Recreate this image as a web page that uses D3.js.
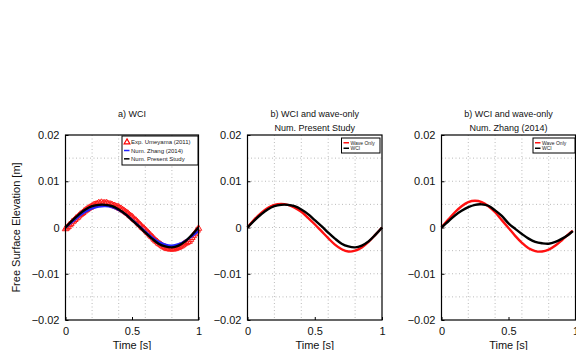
<!DOCTYPE html>
<html><head><meta charset="utf-8">
<script src="https://cdn.jsdelivr.net/npm/d3@7"></script>
<style>body{margin:0;background:#fff;}svg{display:block;font-family:"Liberation Sans",Arial,sans-serif;}</style>
</head><body><svg id="c" width="576" height="350"></svg>
<script>
const tGrid = [0,0.05,0.1,0.15,0.2,0.25,0.3,0.35,0.4,0.45,0.5,0.55,0.6,0.65,0.7,0.75,0.8,0.85,0.9,0.95,1];
const tZhang = [0,0.05,0.1,0.15,0.2,0.25,0.3,0.35,0.4,0.45,0.5,0.55,0.6,0.65,0.7,0.75,0.8,0.85,0.9,0.95,0.98];
const presentWCI = [0,0.0015,0.0028,0.0039,0.0046,0.0049,0.0049,0.0046,0.0039,0.0029,0.0016,0.0003,-0.0011,-0.0024,-0.0035,-0.0041,-0.0043,-0.0039,-0.0030,-0.0016,0];
const presentWave = [0,0.0017,0.0031,0.0042,0.0049,0.0051,0.0049,0.0043,0.0034,0.0021,0.0007,-0.0008,-0.0023,-0.0037,-0.0047,-0.0052,-0.0050,-0.0043,-0.0031,-0.0016,0];
const zhangWCIa = [0,0.0012,0.0024,0.0034,0.0041,0.0045,0.0046,0.0044,0.0038,0.0029,0.0017,0.0004,-0.0009,-0.0021,-0.0031,-0.0037,-0.0039,-0.0036,-0.0029,-0.0019,-0.0008];
const zhangWave = [0,0.0017,0.0033,0.0046,0.0055,0.0058,0.0055,0.0046,0.0033,0.0016,-0.0001,-0.0018,-0.0033,-0.0045,-0.0051,-0.0052,-0.0048,-0.0039,-0.0027,-0.0014,-0.0007];
const zhangWCI = [0,0.0013,0.0026,0.0036,0.0044,0.0049,0.0050,0.0047,0.0037,0.0025,0.0009,-0.0003,-0.0014,-0.0024,-0.0031,-0.0034,-0.0035,-0.0031,-0.0024,-0.0015,-0.0008];
const tExp = [0,0.01,0.02,0.03,0.04,0.05,0.06,0.07,0.08,0.09,0.1,0.11,0.12,0.13,0.14,0.15,0.16,0.17,0.18,0.19,0.2,0.21,0.22,0.23,0.24,0.25,0.26,0.27,0.28,0.29,0.3,0.31,0.32,0.33,0.34,0.35,0.36,0.37,0.38,0.39,0.4,0.41,0.42,0.43,0.44,0.45,0.46,0.47,0.48,0.49,0.5,0.51,0.52,0.53,0.54,0.55,0.56,0.57,0.58,0.59,0.6,0.61,0.62,0.63,0.64,0.65,0.66,0.67,0.68,0.69,0.7,0.71,0.72,0.73,0.74,0.75,0.76,0.77,0.78,0.79,0.8,0.81,0.82,0.83,0.84,0.85,0.86,0.87,0.88,0.89,0.9,0.91,0.92,0.93,0.94,0.95,0.96,0.97,0.98,0.99,1];
const expUmeyama = [-0.0003,-0.0001,0.0002,0.0006,0.0008,0.0012,0.0014,0.0017,0.0020,0.0022,0.0025,0.0028,0.0030,0.0032,0.0035,0.0037,0.0039,0.0041,0.0043,0.0044,0.0046,0.0048,0.0049,0.0050,0.0051,0.0053,0.0052,0.0054,0.0052,0.0053,0.0052,0.0053,0.0051,0.0050,0.0050,0.0049,0.0047,0.0047,0.0045,0.0044,0.0044,0.0041,0.0040,0.0038,0.0036,0.0034,0.0032,0.0030,0.0027,0.0025,0.0023,0.0020,0.0017,0.0015,0.0012,0.0009,0.0006,0.0003,0.0000,-0.0002,-0.0005,-0.0008,-0.0011,-0.0014,-0.0017,-0.0020,-0.0023,-0.0026,-0.0029,-0.0031,-0.0034,-0.0036,-0.0038,-0.0040,-0.0042,-0.0043,-0.0045,-0.0046,-0.0046,-0.0047,-0.0046,-0.0047,-0.0046,-0.0045,-0.0044,-0.0043,-0.0041,-0.0040,-0.0038,-0.0036,-0.0034,-0.0033,-0.0031,-0.0030,-0.0026,-0.0022,-0.0018,-0.0014,-0.0010,-0.0006,-0.0002];
const xTicks = [0,0.5,1];
const yTicks = [0.02,0.01,0,-0.01,-0.02];
const xGrid = [0.2,0.4,0.6,0.8];
const yGrid = [0.015,0.01,0.005,0,-0.005,-0.01,-0.015];

const svg = d3.select("#c");
const plotTop = 135, plotBottom = 320;
const panels = [
  {x0:65.5, x1:198.5, title:["a) WCI"],
   lines:[{t:tGrid,v:zhangWCIa,c:"#2222ff",w:2.2},{t:tGrid,v:presentWCI,c:"#000",w:2.4}],
   exp:true,
   legend:{x:122,y:136,w:76,h:29,fs:6,items:[{l:"Exp. Umeyama (2011)",c:"red",tri:true},{l:"Num. Zhang (2014)",c:"#2222ff"},{l:"Num. Present Study",c:"#000"}]}},
  {x0:247.5, x1:382, title:["b) WCI and wave-only","Num. Present Study"],
   lines:[{t:tGrid,v:presentWave,c:"#ff1010",w:2.4},{t:tGrid,v:presentWCI,c:"#000",w:2.4}],
   legend:{x:341.5,y:138,w:38.5,h:15,fs:5,items:[{l:"Wave Only",c:"#ff1010"},{l:"WCI",c:"#000"}]}},
  {x0:441.5, x1:575.5, title:["b) WCI and wave-only","Num. Zhang (2014)"],
   lines:[{t:tZhang,v:zhangWave,c:"#ff1010",w:2.4},{t:tZhang,v:zhangWCI,c:"#000",w:2.4}],
   legend:{x:533,y:138,w:42,h:15,fs:5,items:[{l:"Wave Only",c:"#ff1010"},{l:"WCI",c:"#000"}]}}
];
const fmt = d => d===0 ? "0" : (d<0 ? "\u2212"+d3.format(".2f")(-d) : d3.format(".2f")(d));
const xfmt = d => d===0.5 ? "0.5" : String(d);

panels.forEach(p => {
  const x = d3.scaleLinear().domain([0,1]).range([p.x0,p.x1]);
  const y = d3.scaleLinear().domain([-0.02,0.02]).range([plotBottom,plotTop]);
  const g = svg.append("g");
  g.selectAll(".gx").data(xGrid).join("line").attr("x1",d=>x(d)).attr("x2",d=>x(d)).attr("y1",plotTop).attr("y2",plotBottom)
    .attr("stroke","#aaa").attr("stroke-width",0.8).attr("stroke-dasharray","1,2.5");
  g.selectAll(".gy").data(yGrid).join("line").attr("y1",d=>y(d)).attr("y2",d=>y(d)).attr("x1",p.x0).attr("x2",p.x1)
    .attr("stroke","#aaa").attr("stroke-width",0.8).attr("stroke-dasharray","1,2.5");
  const ax = g.append("g").attr("transform",`translate(0,${plotBottom})`).call(d3.axisBottom(x).tickValues(xTicks).tickFormat(xfmt).tickSize(-3).tickPadding(7));
  const ay = g.append("g").attr("transform",`translate(${p.x0},0)`).call(d3.axisLeft(y).tickValues(yTicks).tickFormat(fmt).tickSize(-3).tickPadding(6));
  [ax,ay].forEach(a=>{a.select(".domain").remove();a.selectAll("text").attr("font-size",11).attr("fill","#111").attr("font-family","Liberation Sans, Arial, sans-serif");a.selectAll("line").attr("stroke","#000");});
  const line = d3.line().x(d=>x(d[0])).y(d=>y(d[1])).curve(d3.curveCatmullRom);
  if (p.exp) {
    const tri = d3.symbol().type(d3.symbolTriangle).size(18);
    g.selectAll(".ex").data(d3.zip(tExp,expUmeyama)).join("path").attr("d",tri)
      .attr("transform",d=>`translate(${x(d[0])},${y(d[1])})`).attr("fill","none").attr("stroke","#ff1a1a").attr("stroke-width",1);
  }
  p.lines.forEach(L => {
    g.append("path").datum(d3.zip(L.t,L.v)).attr("d",line).attr("fill","none").attr("stroke",L.c).attr("stroke-width",L.w);
  });
  g.append("rect").attr("x",p.x0).attr("y",plotTop).attr("width",p.x1-p.x0).attr("height",plotBottom-plotTop).attr("fill","none").attr("stroke","#000").attr("stroke-width",1.2);
  p.title.forEach((t,i)=>{
    g.append("text").attr("x",(p.x0+p.x1)/2).attr("y",117+i*13.5).attr("text-anchor","middle").attr("font-size",9).attr("fill","#111").text(t);
  });
  g.append("text").attr("x",(p.x0+p.x1)/2).attr("y",349).attr("text-anchor","middle").attr("font-size",11).attr("fill","#111").text("Time [s]");
  const lg = p.legend;
  const lgG = g.append("g");
  lgG.append("rect").attr("x",lg.x).attr("y",lg.y).attr("width",lg.w).attr("height",lg.h).attr("fill","#fff").attr("stroke","#000").attr("stroke-width",1);
  const rowH = (lg.h-4)/lg.items.length;
  lg.items.forEach((it,i)=>{
    const cy = lg.y+2+rowH*(i+0.5);
    if (it.tri) {
      lgG.append("path").attr("d",d3.symbol().type(d3.symbolTriangle).size(14)()).attr("transform",`translate(${lg.x+5},${cy})`).attr("fill","none").attr("stroke","red").attr("stroke-width",1.2);
    } else {
      lgG.append("line").attr("x1",lg.x+2).attr("x2",lg.x+7.5).attr("y1",cy).attr("y2",cy).attr("stroke",it.c).attr("stroke-width",1.5);
    }
    lgG.append("text").attr("x",lg.x+9).attr("y",cy).attr("dy","0.35em").attr("font-size",lg.fs).attr("fill","#222").text(it.l);
  });
});
svg.append("text").attr("transform","translate(20,227.5) rotate(-90)").attr("text-anchor","middle").attr("font-size",11).attr("fill","#111").text("Free Surface Elevation [m]");
</script></body></html>
